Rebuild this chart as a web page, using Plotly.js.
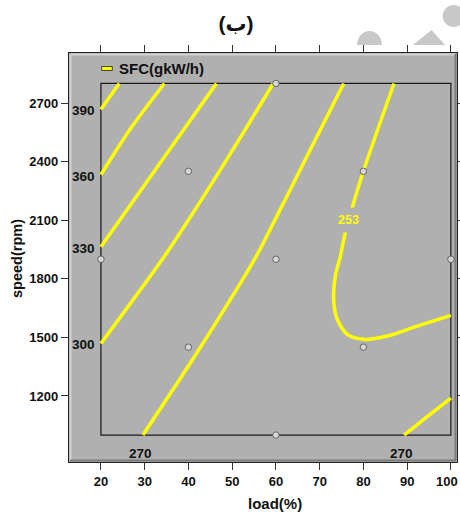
<!DOCTYPE html>
<html><head><meta charset="utf-8">
<script src="https://cdn.plot.ly/plotly-3.0.1.min.js"></script>
<style>html,body{margin:0;padding:0;background:#fff;}#chart{width:460px;height:513px;}</style>
</head><body><div id="chart"></div>
<script>
// ---- data ----
const loadTicks = [20, 30, 40, 50, 60, 70, 80, 90, 100];
const speedTicks = [1200, 1500, 1800, 2100, 2400, 2700];
const loadRange = [20, 100];
const speedRange = [1000, 2800];

const designLoad  = [20, 40, 40, 60, 60, 60, 80, 80, 100];
const designSpeed = [1900, 1450, 2350, 1000, 1900, 2800, 1450, 2350, 1900];

const c390Load = [20, 24.2];
const c390Speed = [2668, 2800];
const c360Load = [20, 26.9, 34.5];
const c360Speed = [2333, 2573, 2800];
const c330Load = [20, 33.0, 46.4];
const c330Speed = [1964, 2376, 2800];
const c300Load = [20, 34.5, 46.8, 59.4];
const c300Speed = [1469, 1915, 2340, 2800];
const c270aLoad = [29.6, 42.2, 55.5, 59.3, 67.1, 75.5];
const c270aSpeed = [1000, 1430, 1915, 2080, 2427, 2800];
const c253Load = [87.0, 80.1, 77.4, 75.9, 74.7, 73.6, 73.2, 74.0, 76.3, 80.1, 85.5, 92.3, 100];
const c253Speed = [2800, 2358, 2161, 2041, 1912, 1816, 1696, 1593, 1515, 1490, 1507, 1558, 1613];
const c270bLoad = [89.3, 94.6, 100];
const c270bSpeed = [1000, 1094, 1189];

const seriesName = 'SFC(gkW/h)';
const titleText = '(ب)';
const xTitle = 'load(%)';
const yTitle = 'speed(rpm)';

// ---- drawing ----
const FONT = 'Arial, "Liberation Sans", "DejaVu Sans", sans-serif';
const YEL = '#ffff00';
const BG = '#b0b0b0';

const contours = [
  {lx: c390Load, ly: c390Speed, level: 390, pos: 'left'},
  {lx: c360Load, ly: c360Speed, level: 360, pos: 'left'},
  {lx: c330Load, ly: c330Speed, level: 330, pos: 'left'},
  {lx: c300Load, ly: c300Speed, level: 300, pos: 'left'},
  {lx: c270aLoad, ly: c270aSpeed, level: 270, pos: 'bottom'},
  {lx: c253Load, ly: c253Speed, level: 253, pos: 'inline', idx: [2, 3]},
  {lx: c270bLoad, ly: c270bSpeed, level: 270, pos: 'bottom'}
];

const traces = contours.map(c => ({
  type: 'scatter', mode: 'lines', x: c.lx, y: c.ly,
  line: {color: YEL, width: 3.5, shape: 'spline', smoothing: 0.8},
  hoverinfo: 'skip', showlegend: false
}));

traces.push({
  type: 'scatter', mode: 'markers', x: designLoad, y: designSpeed,
  marker: {size: 6.5, color: '#d6d6d6', line: {color: '#5a5a5a', width: 0.9}},
  cliponaxis: false, hoverinfo: 'skip', showlegend: false
});

const tickFont = {family: FONT, size: 13, color: '#111', weight: 'bold'};
const annotations = [];
contours.forEach(c => {
  if (c.pos === 'left') {
    annotations.push({x: c.lx[0], y: c.ly[0], xref: 'x', yref: 'y', text: '<b>' + c.level + '</b>',
      showarrow: false, xanchor: 'center', yanchor: 'middle', xshift: -17.5, yshift: -1.5,
      font: {family: FONT, size: 13.5, color: '#111'}});
  } else if (c.pos === 'bottom') {
    annotations.push({x: c.lx[0], y: c.ly[0], xref: 'x', yref: 'y', text: '<b>' + c.level + '</b>',
      showarrow: false, xanchor: 'center', yanchor: 'middle', xshift: -2.5, yshift: -18,
      font: {family: FONT, size: 13.5, color: '#111'}});
  } else {
    const i = c.idx[0], j = c.idx[1];
    annotations.push({x: (c.lx[i] + c.lx[j]) / 2, y: (c.ly[i] + c.ly[j]) / 2, xref: 'x', yref: 'y',
      text: '<b>' + c.level + '</b>', showarrow: false, bgcolor: BG, borderpad: 5,
      xanchor: 'center', yanchor: 'middle', font: {family: FONT, size: 12.5, color: YEL}});
  }
});

// layout geometry (pixels)
const L = 69, T = 53, W = 388, H = 409;
const px = x => (x - L) / W;
const py = y => (T + H - y) / H;

// last x tick label sits against the page edge: anchor it by its right side so it stays visible
const lastTick = loadTicks[loadTicks.length - 1];
const tickText = loadTicks.map((v, i) => i === loadTicks.length - 1 ? '' : String(v));
annotations.push({xref: 'x', yref: 'paper', x: lastTick, y: py(481), xanchor: 'right', yanchor: 'middle',
  xshift: 9, text: '<b>' + lastTick + '</b>', showarrow: false, font: tickFont});

annotations.push({xref: 'paper', yref: 'paper', x: px(275), y: py(504), xanchor: 'center', yanchor: 'middle',
  text: '<b>' + xTitle + '</b>', showarrow: false, font: {family: FONT, size: 15, color: '#111'}});
annotations.push({xref: 'paper', yref: 'paper', x: px(17), y: py(259), xanchor: 'center', yanchor: 'middle',
  text: '<b>' + yTitle + '</b>', textangle: -90, showarrow: false, font: {family: FONT, size: 14.5, color: '#111'}});
annotations.push({xref: 'paper', yref: 'paper', x: px(117), y: py(69), xanchor: 'left', yanchor: 'middle',
  text: '<b>' + seriesName + '</b>', showarrow: false, font: {family: FONT, size: 15, color: '#111'}});

const k = 0.5523;
const semi = (x0, x1, yb, yt) => {
  const cx = (x0 + x1) / 2, rx = (x1 - x0) / 2, ry = yb - yt;
  return `M${px(x0)},${py(yb)} C${px(x0)},${py(yb - ry * k)} ${px(cx - rx * k)},${py(yt)} ${px(cx)},${py(yt)} ` +
         `C${px(cx + rx * k)},${py(yt)} ${px(x1)},${py(yb - ry * k)} ${px(x1)},${py(yb)} Z`;
};

const shapes = [
  {type: 'rect', xref: 'x', yref: 'y', x0: loadRange[0], x1: loadRange[1], y0: speedRange[0], y1: speedRange[1],
   line: {color: '#1a1a1a', width: 1.2}, layer: 'below'},
  {type: 'line', xref: 'paper', yref: 'paper', x0: px(70.5), x1: px(70.5), y0: py(460), y1: py(54.5), line: {color: '#d2d2d2', width: 2}},
  {type: 'line', xref: 'paper', yref: 'paper', x0: px(70.5), x1: px(455.5), y0: py(54.5), y1: py(54.5), line: {color: '#d2d2d2', width: 2}},
  {type: 'line', xref: 'paper', yref: 'paper', x0: px(70), x1: px(456), y0: py(460.5), y1: py(460.5), line: {color: '#7c7c7c', width: 2}},
  {type: 'line', xref: 'paper', yref: 'paper', x0: px(455.5), x1: px(455.5), y0: py(460.5), y1: py(54), line: {color: '#7c7c7c', width: 2}},
  {type: 'rect', xref: 'paper', yref: 'paper', x0: px(101.7), x1: px(112.3), y0: py(70.5), y1: py(66.5),
   fillcolor: YEL, line: {color: '#222', width: 0.8}},
  {type: 'path', xref: 'paper', yref: 'paper', path: semi(357, 382, 45, 31), fillcolor: '#c8c8c8', line: {width: 0}},
  {type: 'path', xref: 'paper', yref: 'paper',
   path: `M${px(412.7)},${py(45)} L${px(431.7)},${py(30)} L${px(445)},${py(45)} Z`, fillcolor: '#c8c8c8', line: {width: 0}},
  {type: 'circle', xref: 'paper', yref: 'paper', x0: px(442.7), x1: px(465), y0: py(27), y1: py(5),
   fillcolor: '#c8c8c8', line: {width: 0}}
];

const axisCommon = {
  showgrid: false, zeroline: false, showline: true, linecolor: '#222', linewidth: 1.2,
  mirror: 'ticks', ticks: 'outside', ticklen: 7, tickwidth: 1, tickcolor: '#333',
  tickfont: tickFont, fixedrange: true
};

const layout = {
  width: 460, height: 513,
  margin: {l: L, r: 460 - L - W, t: T, b: 513 - T - H, pad: 0},
  paper_bgcolor: '#ffffff', plot_bgcolor: BG,
  title: {text: '<b>' + titleText + '</b>', x: 236 / 460, xref: 'container', xanchor: 'center',
          y: 1 - 24 / 513, yref: 'container', yanchor: 'middle',
          font: {family: FONT, size: 21, color: '#111'}},
  xaxis: Object.assign({}, axisCommon, {range: [12.7, 101.4], tickvals: loadTicks, ticktext: tickText}),
  yaxis: Object.assign({}, axisCommon, {range: [862, 2956], tickvals: speedTicks}),
  showlegend: false,
  annotations: annotations,
  shapes: shapes
};

Plotly.newPlot('chart', traces, layout, {displayModeBar: false, staticPlot: true});
</script></body></html>
